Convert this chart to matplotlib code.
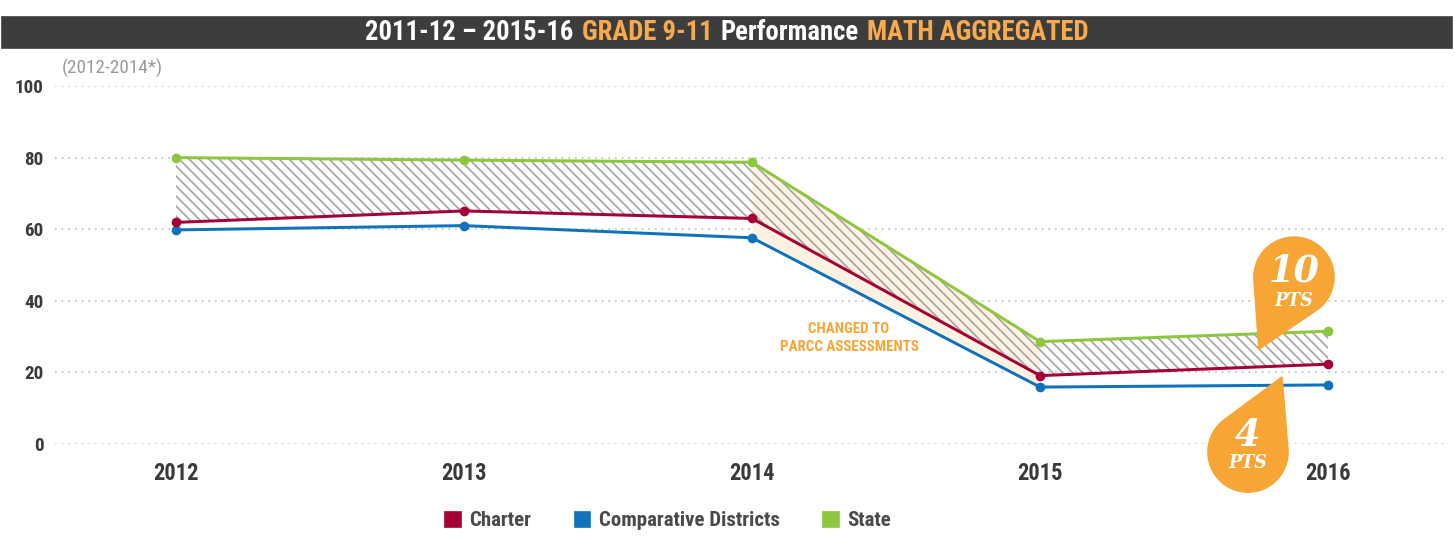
import numpy as np
import matplotlib
matplotlib.use("Agg")
import matplotlib.pyplot as plt
from matplotlib.patches import Rectangle, Patch, Polygon
from matplotlib.offsetbox import TextArea, HPacker, AnnotationBbox

years = [2012, 2013, 2014, 2015, 2016]
charter = [61.9, 65.1, 63.0, 19.1, 22.3]
districts = [59.8, 61.0, 57.6, 15.9, 16.5]
state = [80.0, 79.3, 78.7, 28.6, 31.5]
yticks = [0, 20, 40, 60, 80, 100]

C_CHARTER = '#a50034'
C_DIST = '#0f72bb'
C_STATE = '#8dc63f'
ORANGE = '#f7a535'
DARK = '#3a3a3a'

SANS = ['Roboto Condensed', 'Liberation Sans Narrow', 'Roboto']
plt.rcParams['font.family'] = SANS
plt.rcParams['hatch.linewidth'] = 0.9

DPI = 120
W, H = 1455, 537
fig = plt.figure(figsize=(W / DPI, H / DPI), dpi=DPI)
ax = fig.add_axes([55 / W, 93 / H, 1390 / W, 358 / H])

# title bar
fig.patches.append(Rectangle((2 / W, (H - 48) / H), 1450 / W, 31 / H,
                             transform=fig.transFigure, color='#3d3d3d', zorder=0))
parts = [("2011-12 \u2013 2015-16", 'white'), ("GRADE 9-11", '#f8aa4c'),
         ("Performance", 'white'), ("MATH AGGREGATED", '#f8aa4c')]
boxes = [TextArea(t, textprops=dict(color=c, fontsize=16, fontweight='bold', family=SANS))
         for t, c in parts]
row = HPacker(children=boxes, sep=5, pad=0)
fig.add_artist(AnnotationBbox(row, (727 / W, (H - 33) / H), xycoords='figure fraction',
                              frameon=False, box_alignment=(0.5, 0.5)))

# grid
for v in yticks:
    ax.axhline(v, color='#bdbdbd', lw=1, ls=(0, (1, 3)), zorder=1)

# shaded areas
y_st = np.array(state)
y_ch = np.array(charter)
y_di = np.array(districts)
ax.fill_between(years[2:4], y_di[2:4], y_st[2:4], color='#fdf2e2', lw=0, zorder=2)
ax.fill_between(years, y_ch, y_st, facecolor='none', edgecolor='#9c9c9c',
                hatch='\\\\\\\\', lw=0, zorder=3)

for vals, col in [(districts, C_DIST), (charter, C_CHARTER), (state, C_STATE)]:
    ax.plot(years, vals, color=col, lw=1.8, marker='o', ms=4.8, zorder=5)

ax.text(2014.337, 29.6, "CHANGED TO\nPARCC ASSESSMENTS", color=ORANGE, fontsize=9,
        fontweight='bold', ha='center', va='center', linespacing=1.35, zorder=6)

ax.set_xlim(2011.58, 2016.406)
ax.set_ylim(0, 100)
ax.set_xticks(years)
ax.set_yticks(yticks)
ax.tick_params(axis='x', length=0, pad=11, labelsize=13.5, labelcolor=DARK)
ax.tick_params(axis='y', length=0, pad=7, labelsize=11.5, labelcolor=DARK)
for lab in ax.get_xticklabels() + ax.get_yticklabels():
    lab.set_fontweight('bold')
for s in ax.spines.values():
    s.set_visible(False)

fig.text(62 / W, (H - 68) / H, "(2012-2014*)", color='#9a9a9a', fontsize=11.5,
         ha='left', va='center')

# point bubbles
def bubble(tip, offset, r, big, big_dy, small_dy):
    tx, ty = ax.transData.transform(tip)
    cx, cy = tx + offset[0], ty + offset[1]
    d = np.hypot(tx - cx, ty - cy)
    th = np.arctan2(ty - cy, tx - cx)
    a = np.arccos(r / d)
    arc = np.linspace(th + a, th + 2 * np.pi - a, 80)
    pts = [(tx, ty)] + [(cx + r * np.cos(t), cy + r * np.sin(t)) for t in arc]
    fig.patches.append(Polygon(pts, closed=True, transform=None, color=ORANGE, zorder=8))
    fig.text(cx / W, (cy + big_dy) / H, big, color='white', fontsize=22,
             family='DejaVu Serif', fontweight='bold', style='italic',
             ha='center', va='center', zorder=9)
    fig.text(cx / W, (cy + small_dy) / H, "PTS", color='white', fontsize=10.5,
             family='DejaVu Serif', fontweight='bold', style='italic',
             ha='center', va='center', zorder=9)

bubble((2015.76, 26.5), (35, 72), 40, "10", 6, -24)
bubble((2015.84, 18.7), (-34, -75), 40, "4", 16, -11)

handles = [Patch(color=C_CHARTER, label='Charter'),
           Patch(color=C_DIST, label='Comparative Districts'),
           Patch(color=C_STATE, label='State')]
leg = fig.legend(handles=handles, loc='center', bbox_to_anchor=(668 / W, 16 / H), ncol=3,
                 frameon=False, handlelength=0.75, handleheight=0.75, handletextpad=0.4,
                 columnspacing=2.1, prop=dict(family=SANS, weight='bold', size=12.5))
for t in leg.get_texts():
    t.set_color('#4a4a4a')

fig.savefig('out.png', dpi=DPI)
